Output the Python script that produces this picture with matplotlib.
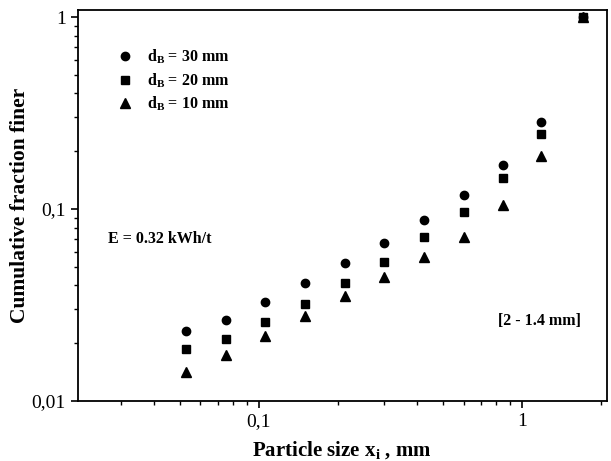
import matplotlib
matplotlib.use("Agg")
import matplotlib.pyplot as plt
from matplotlib.ticker import FixedLocator, FixedFormatter, LogLocator, NullFormatter

# sieve sizes, mm
sizes = [0.053, 0.075, 0.106, 0.15, 0.212, 0.3, 0.425, 0.6, 0.85, 1.18, 1.7]
# cumulative fraction finer for each ball diameter
frac_30 = [0.0232, 0.0263, 0.0328, 0.0413, 0.0521, 0.0667, 0.0877, 0.119, 0.169, 0.284, 1.0]
frac_20 = [0.0187, 0.0210, 0.0258, 0.0320, 0.0410, 0.0532, 0.0712, 0.0968, 0.146, 0.246, 1.0]
frac_10 = [0.0142, 0.0173, 0.0219, 0.0277, 0.0352, 0.0444, 0.0560, 0.0712, 0.1045, 0.189, 1.0]

labels = [r"d$_{\mathrm{B}}$ = 30 mm", r"d$_{\mathrm{B}}$ = 20 mm", r"d$_{\mathrm{B}}$ = 10 mm"]

plt.rcParams["font.family"] = "Liberation Serif"
plt.rcParams["mathtext.fontset"] = "custom"
plt.rcParams["mathtext.rm"] = "Liberation Serif:bold"
plt.rcParams["mathtext.default"] = "rm"

fig = plt.figure(figsize=(6.11, 4.61), dpi=100)
ax = fig.add_axes([0.127, 0.130, 0.866, 0.848])

ax.plot(sizes, frac_30, "o", color="black", ms=6.0, label=labels[0])
ax.plot(sizes, frac_20, "s", color="black", ms=5.3, label=labels[1])
ax.plot(sizes, frac_10, "^", color="black", ms=6.8, label=labels[2])

ax.set_xscale("log")
ax.set_yscale("log")
ax.set_xlim(0.0205, 2.1)
ax.set_ylim(0.01, 1.087)

ax.xaxis.set_major_locator(FixedLocator([0.1, 1]))
ax.xaxis.set_major_formatter(FixedFormatter(["0,1", "1"]))
ax.yaxis.set_major_locator(FixedLocator([0.01, 0.1, 1]))
ax.yaxis.set_major_formatter(FixedFormatter(["0,01", "0,1", "1"]))
for axis in (ax.xaxis, ax.yaxis):
    axis.set_minor_locator(LogLocator(base=10, subs=range(2, 10)))
    axis.set_minor_formatter(NullFormatter())

ax.tick_params(which="major", direction="out", length=5, width=1.2, labelsize=14)
ax.tick_params(which="minor", direction="out", length=3, width=1.0)
for sp in ax.spines.values():
    sp.set_linewidth(1.3)

ax.set_xlabel(r"Particle size x$_{\mathrm{i}}$ , mm", fontsize=15, fontweight="bold", labelpad=6.5)
ax.set_ylabel("Cumulative fraction finer", fontsize=15.5, fontweight="bold", labelpad=1)

leg = ax.legend(loc="upper left", bbox_to_anchor=(0.045, 0.94), frameon=False,
                handletextpad=0.75, labelspacing=0.3, handlelength=1.2,
                prop={"weight": "bold", "size": 11.5})

ax.text(0.057, 0.414, "E = 0.32 kWh/t", transform=ax.transAxes, fontsize=11.5,
        fontweight="bold", ha="left", va="center")
ax.text(0.794, 0.205, "[2 - 1.4 mm]", transform=ax.transAxes, fontsize=11.5,
        fontweight="bold", ha="left", va="center")

fig.savefig("out.png", dpi=100)
